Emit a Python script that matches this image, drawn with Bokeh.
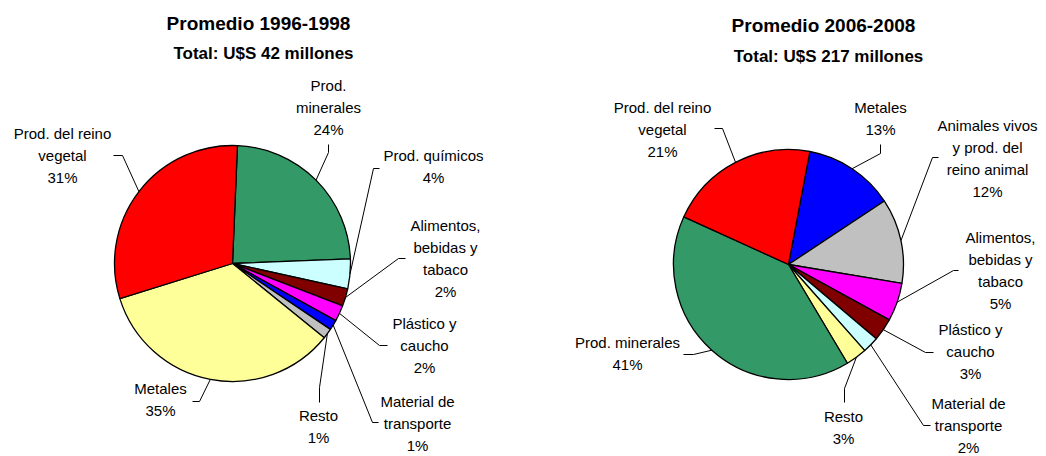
import numpy as np
from bokeh.plotting import figure
from bokeh.models import Range1d, ColumnDataSource
from bokeh.core.properties import value
from bokeh.embed import file_html
from bokeh.resources import INLINE

# ---------------- data ----------------
titles = ["Promedio 1996-1998", "Promedio 2006-2008"]
subtitles = ["Total: U$S 42 millones", "Total: U$S 217 millones"]

cats_1 = ["Prod.\nminerales", "Prod. químicos", "Alimentos,\nbebidas y\ntabaco",
          "Plástico y\ncaucho", "Material de\ntransporte", "Resto", "Metales",
          "Prod. del reino\nvegetal"]
vals_1 = [23.8, 4.1, 2.4, 2.2, 1.4, 1.4, 34.5, 30.6]
pct_1 = ["24%", "4%", "2%", "2%", "1%", "1%", "35%", "31%"]
colors_1 = ["#339966", "#CCFFFF", "#800000", "#FF00FF", "#0000FF", "#C0C0C0",
            "#FFFF99", "#FF0000"]

cats_2 = ["Metales", "Animales vivos\ny prod. del\nreino animal", "Alimentos,\nbebidas y\ntabaco",
          "Plástico y\ncaucho", "Material de\ntransporte", "Resto", "Prod. minerales",
          "Prod. del reino\nvegetal"]
vals_2 = [12.8, 12.0, 5.4, 3.2, 2.3, 3.0, 40.6, 21.3]
pct_2 = ["13%", "12%", "5%", "3%", "2%", "3%", "41%", "21%"]
colors_2 = ["#0000FF", "#C0C0C0", "#FF00FF", "#800000", "#CCFFFF", "#FFFF99",
            "#339966", "#FF0000"]

# ---------------- layout (screen pixels) ----------------
W, H = 1046, 456
FONT = "Liberation Sans"
LINE = 22

def sx(x):
    return x

def sy(y):
    return H - y

pies = [
    dict(cx=232, cy=263, r=118, offset=2.4, cats=cats_1, vals=vals_1, pct=pct_1,
         colors=colors_1, title=(258, 23), sub=(263, 53),
         # label centre x, first line y, leader anchor, elbow
         labels=[(328, 85, (328, 144), (328, 152)),
                 (433, 155, (379, 168), (373, 168)),
                 (445, 225, (405, 258), (398, 258)),
                 (424, 323, (387, 345), (379, 345)),
                 (417, 401, (378, 422), (372, 422)),
                 (318, 415, (319, 402), (319, 387)),
                 (160, 388, (192, 401), (199, 401)),
                 (62, 133, (113, 155), (122, 155))]),
    dict(cx=788, cy=264, r=115, offset=10.7, cats=cats_2, vals=vals_2, pct=pct_2,
         colors=colors_2, title=(823, 25), sub=(828, 56),
         labels=[(880, 107, (880, 144), (880, 153)),
                 (987, 125, (938, 157), (932, 157)),
                 (1000, 237, (958, 270), (953, 270)),
                 (970, 329, (933, 352), (925, 352)),
                 (968, 403, (930, 425), (923, 425)),
                 (843, 416, (844, 402), (844, 388)),
                 (627, 342, (683, 354), (693, 354)),
                 (662, 107, (714, 128), (722, 128))]),
]

p = figure(width=W, height=H, output_backend="svg", toolbar_location=None,
           x_range=Range1d(0, W), y_range=Range1d(0, H), min_border=0,
           background_fill_color="white", border_fill_color="white")
p.xaxis.visible = False
p.yaxis.visible = False
p.grid.visible = False
p.outline_line_color = None

for k, pie in enumerate(pies):
    v = np.array(pie["vals"], dtype=float)
    frac = v / v.sum()
    cum = np.concatenate([[0.0], np.cumsum(frac)])
    off = np.deg2rad(pie["offset"])
    start = np.pi / 2 - off - 2 * np.pi * cum[1:]
    end = np.pi / 2 - off - 2 * np.pi * cum[:-1]
    mid = (start + end) / 2
    src = ColumnDataSource(dict(x=[sx(pie["cx"])] * len(v), y=[sy(pie["cy"])] * len(v),
                                start=start, end=end, color=pie["colors"]))
    p.wedge(x="x", y="y", radius=pie["r"], start_angle="start", end_angle="end",
            fill_color="color", line_color="black", line_width=1.3, source=src)

    # leader lines
    xs, ys = [], []
    for (lx, ly, a, e), m in zip(pie["labels"], mid):
        ex = sx(pie["cx"]) + pie["r"] * np.cos(m)
        ey = sy(pie["cy"]) + pie["r"] * np.sin(m)
        xs.append([sx(a[0]), sx(e[0]), ex])
        ys.append([sy(a[1]), sy(e[1]), ey])
    p.multi_line(xs=xs, ys=ys, line_color="black", line_width=1)

    # labels
    tx, ty, tt = [], [], []
    for (lx, ly, a, e), cat, pc in zip(pie["labels"], pie["cats"], pie["pct"]):
        lines = cat.split("\n") + [pc]
        for i, t in enumerate(lines):
            tx.append(sx(lx))
            ty.append(sy(ly + i * LINE))
            tt.append(t)
    p.text(x=tx, y=ty, text=tt, text_align="center", text_baseline="middle",
           text_font=value(FONT), text_font_size="15px", text_color="black")

    # titles
    p.text(x=[sx(pie["title"][0])], y=[sy(pie["title"][1])], text=[titles[k]],
           text_align="center", text_baseline="middle", text_font=value(FONT),
           text_font_size="19px", text_font_style="bold", text_color="black")
    p.text(x=[sx(pie["sub"][0])], y=[sy(pie["sub"][1])], text=[subtitles[k]],
           text_align="center", text_baseline="middle", text_font=value(FONT),
           text_font_size="17px", text_font_style="bold", text_color="black")

open("out.html", "w").write(file_html(p, INLINE))
